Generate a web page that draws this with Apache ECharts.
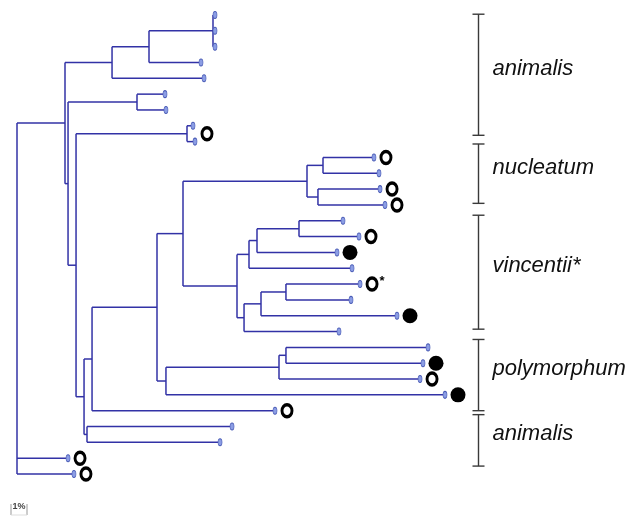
<!DOCTYPE html>
<html><head><meta charset="utf-8">
<script src="https://cdn.jsdelivr.net/npm/echarts@6/dist/echarts.min.js"></script>
<style>html,body{margin:0;padding:0;background:#fff}#c{width:630px;height:517px}</style>
</head><body><div id="c"></div>
<script>
// Tip distances (% divergence from root), leaves listed top to bottom
const leafDist = [12.375, 12.375, 12.375, 11.5, 11.69, 9.25, 9.31, 11.0, 11.125,
  22.31, 22.625, 22.69, 23.0, 20.375, 21.375, 20.0, 20.94, 21.44, 20.875, 23.75, 20.125,
  25.69, 25.375, 25.19, 26.75, 16.125, 13.44, 12.69, 3.19, 3.56];

// Internal nodes: id, distance from root, children (number = leaf index, string = node id)
const nodeIds = ['A', 'B', 'C', 'D', 'E', 'F', 'G', 'H', 'I', 'J', 'K', 'L', 'M', 'N', 'O', 'P',
  'Q', 'R', 'S', 'T', 'U', 'V', 'W', 'X', 'Y', 'Z', 'root'];
const nodeDist = [12.25, 8.25, 5.94, 7.5, 10.625, 19.125, 18.81, 18.125, 17.625, 15.0, 14.5, 16.81,
  15.25, 14.19, 13.75, 10.375, 16.81, 16.375, 9.31, 8.75, 4.69, 4.375, 4.19, 3.69, 3.19, 3.0, 0];
const nodeChildren = [[0, 1, 2], ['A', 3], ['B', 4], [5, 6], [7, 8], [9, 10], [11, 12], ['F', 'G'],
  [13, 14], ['I', 15], ['J', 16], [17, 18], ['L', 19], ['M', 20], ['K', 'N'], ['H', 'O'],
  [21, 22], ['Q', 23], ['R', 24], ['P', 'S'], ['T', 25], [26, 27], ['U', 'V'], ['E', 'W'],
  ['D', 'X'], ['C', 'Y'], ['Z', 28, 29]];

// Circle markers next to tips (leaf position, type)
const markLeaf = [7.5, 9, 11, 12, 14, 15, 17, 19, 22, 23, 24, 25, 28, 29];
const markType = ['open', 'open', 'open', 'open', 'open', 'filled', 'open*', 'filled',
  'filled', 'open', 'filled', 'open', 'open', 'open'];

// Clade brackets (in leaf-position units)
const cladeNames = ['animalis', 'nucleatum', 'vincentii*', 'polymorphum', 'animalis'];
const cladeFrom = [-0.05, 8.15, 12.65, 20.5, 25.25];
const cladeTo = [7.6, 11.9, 19.85, 25.0, 28.5];

// Scale bar
const scaleLabel = '1%';
const scaleStart = -0.375;
const scaleLen = 1;

// ---- build tree geometry ----
const nodeIndex = {};
nodeIds.forEach((id, i) => nodeIndex[id] = i);
const yCache = {};
function yOf(ref) {
  if (typeof ref === 'number') return ref;
  if (yCache[ref] !== undefined) return yCache[ref];
  const ch = nodeChildren[nodeIndex[ref]];
  const v = (yOf(ch[0]) + yOf(ch[ch.length - 1])) / 2;
  yCache[ref] = v;
  return v;
}
function dOf(ref) {
  return typeof ref === 'number' ? leafDist[ref] : nodeDist[nodeIndex[ref]];
}
const segments = [];
nodeIds.forEach((id, i) => {
  const d = nodeDist[i];
  const ch = nodeChildren[i];
  segments.push([d, yOf(ch[0]), d, yOf(ch[ch.length - 1])]);
  ch.forEach(c => segments.push([d, yOf(c), dOf(c), yOf(c)]));
});
const tipData = leafDist.map((d, i) => [d, i]);
const markData = markLeaf.map((p, i) => {
  const lo = Math.floor(p), hi = Math.ceil(p);
  return { value: [Math.max(leafDist[lo], leafDist[hi]), p], kind: markType[i] };
});
const cladeData = cladeNames.map((n, i) => [cladeFrom[i], cladeTo[i], i]);

const BRACKET_X = 28.81;
const FONT = '"Liberation Sans", Arial, sans-serif';
const ELLIPSE = 'path://M5 0 A5 6 0 1 1 5 12 A5 6 0 1 1 5 0 Z';

const chart = echarts.init(document.getElementById('c'), null, { renderer: 'canvas' });
chart.setOption({
  animation: false,
  backgroundColor: '#fff',
  grid: { left: 17, top: 15, width: 608, height: 459 },
  xAxis: { type: 'value', min: 0, max: 38, show: false },
  yAxis: { type: 'value', min: 0, max: 29, inverse: true, show: false },
  series: [
    {
      type: 'custom', clip: false, silent: true,
      data: segments,
      renderItem: (params, api) => {
        const p1 = api.coord([api.value(0), api.value(1)]);
        const p2 = api.coord([api.value(2), api.value(3)]);
        return { type: 'line', shape: { x1: p1[0], y1: p1[1], x2: p2[0], y2: p2[1] },
          style: { stroke: '#3232a6', lineWidth: 1.5 } };
      }
    },
    {
      type: 'scatter', silent: true,
      data: tipData,
      symbol: 'path://M2 0 A2 3.5 0 1 1 2 7 A2 3.5 0 1 1 2 0 Z',
      symbolSize: [4, 7],
      itemStyle: { color: '#8b9de4', borderColor: '#4a5cb6', borderWidth: 0.8, opacity: 1 }
    },
    {
      type: 'scatter', silent: true,
      data: markData.filter(m => m.kind !== 'filled').map(m => ({
        value: m.value,
        label: { show: m.kind === 'open*', formatter: '*', position: 'right', offset: [-4, -3],
          fontSize: 13, fontWeight: 'bold', color: '#000', fontFamily: FONT }
      })),
      symbol: ELLIPSE, symbolSize: [10, 12], symbolOffset: [12, 0],
      itemStyle: { color: '#fff', borderColor: '#000', borderWidth: 3.2, opacity: 1 }
    },
    {
      type: 'scatter', silent: true,
      data: markData.filter(m => m.kind === 'filled').map(m => m.value),
      symbol: 'circle', symbolSize: 15, symbolOffset: [13, 0],
      itemStyle: { color: '#000', opacity: 1 }
    },
    {
      type: 'custom', clip: false, silent: true,
      data: cladeData,
      renderItem: (params, api) => {
        const a = api.coord([BRACKET_X, api.value(0)]);
        const b = api.coord([BRACKET_X, api.value(1)]);
        const x = Math.round(a[0]) + 0.5;
        const st = { stroke: '#3a3a3a', lineWidth: 1.4 };
        return { type: 'group', children: [
          { type: 'line', shape: { x1: x, y1: a[1], x2: x, y2: b[1] }, style: st },
          { type: 'line', shape: { x1: x - 6, y1: a[1], x2: x + 6, y2: a[1] }, style: st },
          { type: 'line', shape: { x1: x - 6, y1: b[1], x2: x + 6, y2: b[1] }, style: st },
          { type: 'text', x: x + 14, y: (a[1] + b[1]) / 2 - 6,
            style: { text: cladeNames[api.value(2)], fill: '#111',
              font: 'italic 22px ' + FONT, align: 'left', verticalAlign: 'middle' } }
        ] };
      }
    },
    {
      type: 'custom', clip: false, silent: true,
      data: [[scaleStart, scaleLen]],
      renderItem: (params, api) => {
        const a = api.coord([api.value(0), 29]);
        const b = api.coord([api.value(0) + api.value(1), 29]);
        const yb = a[1] + 41;
        const st = { stroke: '#999', lineWidth: 1 };
        return { type: 'group', children: [
          { type: 'line', shape: { x1: a[0], y1: yb - 11, x2: a[0], y2: yb }, style: st },
          { type: 'line', shape: { x1: b[0], y1: yb - 11, x2: b[0], y2: yb }, style: st },
          { type: 'line', shape: { x1: a[0], y1: yb, x2: b[0], y2: yb }, style: { stroke: '#ddd', lineWidth: 1 } },
          { type: 'text', x: (a[0] + b[0]) / 2, y: yb - 8,
            style: { text: scaleLabel, fill: '#444', font: 'bold 9px ' + FONT,
              align: 'center', verticalAlign: 'middle' } }
        ] };
      }
    }
  ]
});
</script></body></html>
